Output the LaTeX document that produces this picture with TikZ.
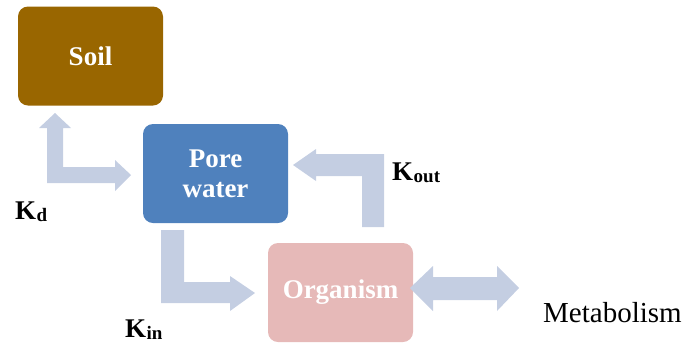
\documentclass[tikz,border=0pt]{standalone}
\usepackage{fontspec}
\setmainfont{Liberation Serif}
\definecolor{soilc}{RGB}{153,102,0}
\definecolor{porec}{RGB}{79,129,189}
\definecolor{orgc}{RGB}{230,185,184}
\definecolor{arrc}{RGB}{196,206,226}
\newcommand{\klab}[1]{\fontsize{27}{27}\selectfont\bfseries K\kern0.5pt\raisebox{-2.5pt}{\fontsize{19}{19}\selectfont\bfseries #1}}
\begin{document}
\begin{tikzpicture}[x=1pt,y=-1pt,
  boxx/.style={rounded corners=10pt, minimum width=145pt, minimum height=99pt,
    text=white, font=\fontsize{27}{30}\selectfont\bfseries, align=center, inner sep=0pt},
  blockarrow/.style={fill=arrc, draw=none},
  klabel/.style={anchor=base west, inner sep=0pt}]
\useasboundingbox (0,0) rectangle (692,349);
% boxes
\node[boxx, fill=soilc] (soil) at (90.5,56) {Soil};
\node[boxx, fill=porec] (pore) at (215.5,173.5) {Pore\\water};
\node[boxx, fill=orgc] (org) at (340.5,292.5) {Organism};
% Kd arrow (double, bent)
\fill[blockarrow] (47,183) -- (47,128) -- (39,128) -- (55,113) -- (71,128) -- (63,128)
  -- (63,167) -- (115,167) -- (115,160) -- (131,175) -- (115,191) -- (115,183) -- cycle;
% Kout arrow
\fill[blockarrow] (384,227) -- (384,154) -- (316,154) -- (316,149) -- (293,165)
  -- (316,181) -- (316,176) -- (362,176) -- (362,227) -- cycle;
% Kin arrow
\fill[blockarrow] (161,230) -- (184,230) -- (184,282) -- (230,282) -- (230,276)
  -- (255,293) -- (230,311) -- (230,303) -- (161,303) -- cycle;
% metabolism double arrow
\fill[blockarrow] (410,288) -- (433,266) -- (433,277) -- (497,277) -- (497,266)
  -- (519,288) -- (497,311) -- (497,300) -- (433,300) -- (433,311) -- cycle;
% labels
\node[klabel] (kd) at (15,219) {\klab{d}};
\node[klabel] (kout) at (392,180) {\klab{out}};
\node[klabel] (kin) at (125,337) {\klab{in}};
\node[anchor=base west, inner sep=0pt, font=\fontsize{29}{29}\selectfont] (met) at (543,322) {Metabolism};
\end{tikzpicture}
\end{document}
